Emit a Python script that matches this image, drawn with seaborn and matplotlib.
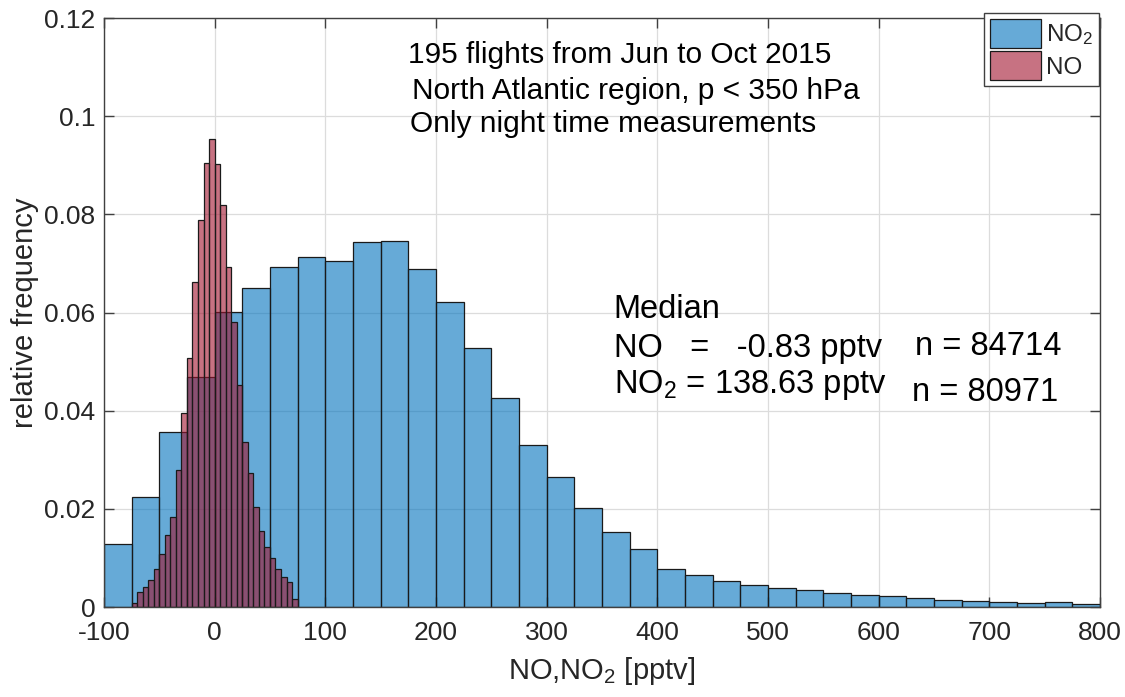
import matplotlib
matplotlib.use('Agg')
import numpy as np
import pandas as pd
import matplotlib.pyplot as plt
import seaborn as sns

# NO2 histogram, 25 pptv bins from -100 to 800
no2_edges = list(range(-100, 825, 25))
no2_freq = [0.0128, 0.0224, 0.0356, 0.0468, 0.0601, 0.0650, 0.0693, 0.0713,
            0.0705, 0.0744, 0.0745, 0.0689, 0.0622, 0.0528, 0.0426, 0.0330,
            0.0265, 0.0201, 0.0152, 0.0118, 0.0078, 0.0066, 0.0054, 0.0045,
            0.0039, 0.0034, 0.0028, 0.0024, 0.0023, 0.0018, 0.0015, 0.0013,
            0.0010, 0.0009, 0.0010, 0.0007]

# NO histogram, 5 pptv bins from -75 to 75
no_edges = list(range(-75, 80, 5))
no_freq = [0.0009, 0.0030, 0.0040, 0.0055, 0.0078, 0.0109, 0.0146, 0.0184,
           0.0280, 0.0395, 0.0507, 0.0662, 0.0789, 0.0904, 0.0953, 0.0903,
           0.0820, 0.0692, 0.0580, 0.0452, 0.0336, 0.0274, 0.0203, 0.0155,
           0.0123, 0.0100, 0.0077, 0.0062, 0.0052, 0.0016]

no2_df = pd.DataFrame({'x': (np.array(no2_edges[:-1]) + np.array(no2_edges[1:])) / 2,
                       'freq': no2_freq})
no_df = pd.DataFrame({'x': (np.array(no_edges[:-1]) + np.array(no_edges[1:])) / 2,
                      'freq': no_freq})

sns.set_style('white')
plt.rcParams['font.family'] = ['Liberation Sans', 'DejaVu Sans']
plt.rcParams['mathtext.default'] = 'regular'
plt.rcParams['axes.unicode_minus'] = False

fig = plt.figure(figsize=(11.25, 6.97), dpi=100)
ax = fig.add_axes([0.0924, 0.129, 0.8854, 0.845])

blue = (0.0, 0.447, 0.741)
red = (0.635, 0.078, 0.184)

sns.histplot(data=no2_df, x='x', weights='freq', bins=no2_edges, color=blue,
             alpha=0.6, edgecolor='#1a1a1a', linewidth=0.9, ax=ax, label='NO$_2$')
sns.histplot(data=no_df, x='x', weights='freq', bins=no_edges, color=red,
             alpha=0.6, edgecolor='#1a1a1a', linewidth=0.9, ax=ax, label='NO')

ax.set_xlim(-100, 800)
ax.set_ylim(0, 0.12)
ax.set_xticks(range(-100, 801, 100))
ax.set_yticks([0, 0.02, 0.04, 0.06, 0.08, 0.1, 0.12])
ax.set_yticklabels(['0', '0.02', '0.04', '0.06', '0.08', '0.1', '0.12'])
ax.grid(True, color='#dcdcdc', linewidth=0.9)
ax.set_axisbelow(True)
for s in ax.spines.values():
    s.set_color('#404040')
    s.set_linewidth(1.0)
ax.tick_params(direction='in', length=7, width=1, colors='#404040',
               labelcolor='#262626', labelsize=19, top=True, right=True,
               left=True, bottom=True)
ax.tick_params(axis='x', pad=10)
ax.tick_params(axis='y', pad=6)

ax.set_xlabel('NO,NO$_2$ [pptv]', fontsize=21, color='#262626', labelpad=7)
ax.set_ylabel('relative frequency', fontsize=21, color='#262626', labelpad=4)

txt = dict(fontsize=21.5, color='black', va='center', ha='left')
ax.text(174.6, 0.1125, '195 flights from Jun to Oct 2015', **txt)
ax.text(178, 0.1052, 'North Atlantic region, p < 350 hPa', **txt)
ax.text(176.4, 0.0985, 'Only night time measurements', **txt)

med = dict(fontsize=23.5, color='black', va='center', ha='left')
ax.text(360.7, 0.0607, 'Median', **med)
ax.text(360.7, 0.0526, 'NO   =   -0.83 pptv', **med)
ax.text(632.6, 0.0530, 'n = 84714', **med)
ax.text(360.7, 0.0452, 'NO$_2$ = 138.63 pptv', **med)
ax.text(630, 0.0438, 'n = 80971', **med)

leg = ax.legend(loc='upper right', bbox_to_anchor=(0.999, 1.009), fontsize=17.5,
                frameon=True, fancybox=False, framealpha=1, edgecolor='#404040',
                handlelength=2.1, handleheight=1.45, borderpad=0.25,
                labelspacing=0.15, handletextpad=0.2, borderaxespad=0)
leg.get_frame().set_linewidth(1.0)

fig.savefig('out.png', dpi=100)
